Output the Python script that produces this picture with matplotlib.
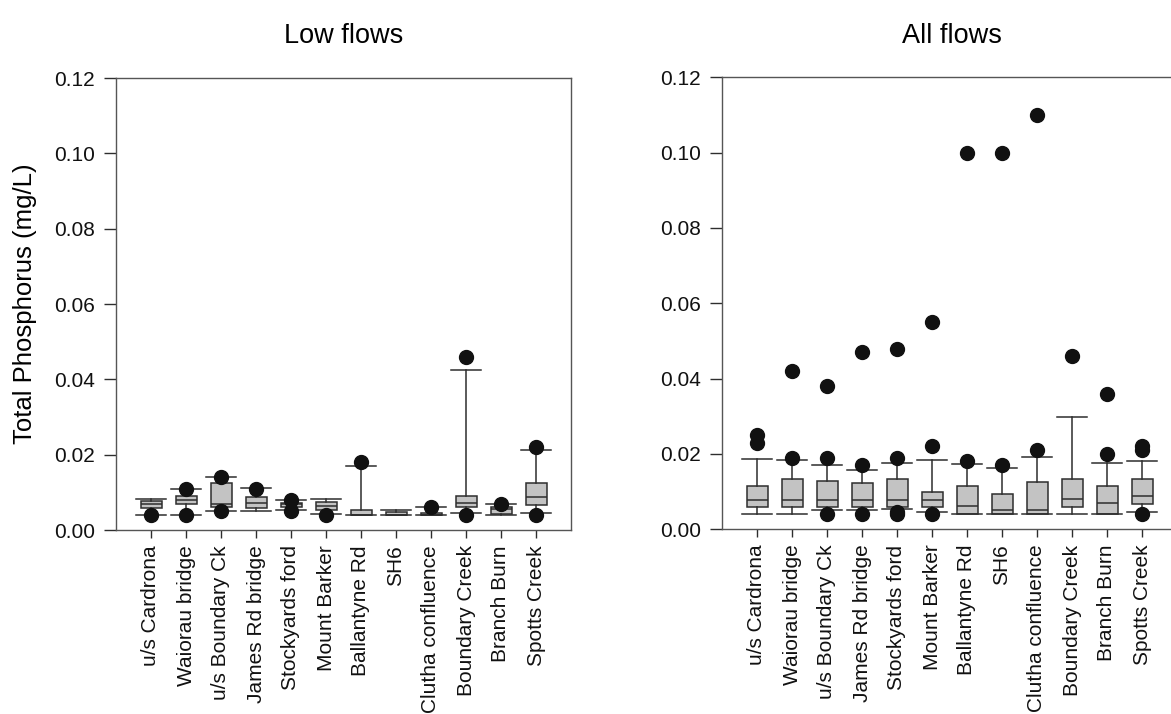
#!/usr/bin/env python3
"""
Total phosphorus box plots by site, low flows vs all flows.
"""

import matplotlib
matplotlib.use('Agg')
import matplotlib.pyplot as plt

plt.rcParams['font.family'] = ['Liberation Sans', 'DejaVu Sans']

sites = ['u/s Cardrona', 'Waiorau bridge', 'u/s Boundary Ck', 'James Rd bridge',
         'Stockyards ford', 'Mount Barker', 'Ballantyne Rd', 'SH6',
         'Clutha confluence', 'Boundary Creek', 'Branch Burn', 'Spotts Creek']

# Low flows
low_whislo = [0.004, 0.004, 0.005, 0.005, 0.0052, 0.0043, 0.004, 0.004, 0.004, 0.0044, 0.004, 0.0044]
low_q1 = [0.0058, 0.007, 0.0062, 0.0058, 0.006, 0.0052, 0.004, 0.004, 0.004, 0.0061, 0.0043, 0.0066]
low_med = [0.0068, 0.0079, 0.0069, 0.0071, 0.0068, 0.0065, 0.004, 0.004, 0.004, 0.0071, 0.0056, 0.0088]
low_q3 = [0.0078, 0.0091, 0.0124, 0.0088, 0.0072, 0.0074, 0.0054, 0.0047, 0.0045, 0.009, 0.0062, 0.0124]
low_whishi = [0.0082, 0.011, 0.0141, 0.0112, 0.008, 0.0082, 0.017, 0.0052, 0.006, 0.0424, 0.007, 0.0213]
low_fliers = [[0.004], [0.011, 0.004], [0.014, 0.005], [0.011], [0.008, 0.005], [0.004],
              [0.018], [], [0.006], [0.046, 0.004], [0.007], [0.022, 0.004]]

# All flows
all_whislo = [0.004, 0.004, 0.005, 0.005, 0.0055, 0.0046, 0.004, 0.004, 0.004, 0.004, 0.004, 0.0046]
all_q1 = [0.006, 0.006, 0.006, 0.006, 0.006, 0.006, 0.004, 0.004, 0.004, 0.0059, 0.004, 0.0068]
all_med = [0.0079, 0.0079, 0.0079, 0.0079, 0.0079, 0.0079, 0.0061, 0.005, 0.005, 0.008, 0.0069, 0.0089]
all_q3 = [0.0114, 0.0134, 0.0129, 0.0124, 0.0134, 0.0099, 0.0114, 0.0094, 0.0125, 0.0134, 0.0114, 0.0134]
all_whishi = [0.0187, 0.0184, 0.0171, 0.0157, 0.0177, 0.0184, 0.0173, 0.0164, 0.0193, 0.0298, 0.0175, 0.018]
all_fliers = [[0.025, 0.023], [0.042, 0.019], [0.038, 0.019, 0.004], [0.047, 0.017, 0.004],
              [0.048, 0.019, 0.004, 0.0045], [0.055, 0.022, 0.004], [0.1, 0.018], [0.1, 0.017],
              [0.11, 0.021], [0.046], [0.036, 0.02], [0.022, 0.021, 0.004]]

line_col = '#2e2e2e'


def make_stats(whislo, q1, med, q3, whishi, fliers):
    stats = []
    for i in range(len(sites)):
        stats.append(dict(whislo=whislo[i], q1=q1[i], med=med[i], q3=q3[i],
                          whishi=whishi[i], fliers=fliers[i]))
    return stats


def draw_panel(ax, stats, title):
    ax.bxp(stats, positions=range(1, len(sites) + 1), widths=0.6, capwidths=0.88,
           patch_artist=True,
           boxprops=dict(facecolor='#c3c3c3', edgecolor=line_col, linewidth=1.1),
           medianprops=dict(color=line_col, linewidth=1.1),
           whiskerprops=dict(color=line_col, linewidth=1.1),
           capprops=dict(color=line_col, linewidth=1.1),
           flierprops=dict(marker='o', markerfacecolor='#111111', markeredgecolor='#111111',
                           markersize=10, zorder=5))
    ax.set_xlim(0, 13)
    ax.set_ylim(0, 0.12)
    ax.set_yticks([0.0, 0.02, 0.04, 0.06, 0.08, 0.10, 0.12])
    ax.set_yticklabels(['0.00', '0.02', '0.04', '0.06', '0.08', '0.10', '0.12'])
    ax.set_xticks(range(1, len(sites) + 1))
    ax.set_xticklabels(sites, rotation=90, va='top', ha='center')
    ax.tick_params(axis='both', labelsize=15, colors=line_col, labelcolor='#111111',
                   direction='out', width=1.0)
    ax.tick_params(axis='y', length=9, pad=6)
    ax.tick_params(axis='x', length=6, pad=5)
    for s in ax.spines.values():
        s.set_color('#555555')
        s.set_linewidth(1.0)
    ax.set_title(title, fontsize=19.5, pad=25)


fig = plt.figure(figsize=(11.71, 7.14), dpi=100)
ax1 = fig.add_axes([116 / 1171, 184 / 714, 455 / 1171, 452 / 714])
ax2 = fig.add_axes([722 / 1171, 184.7 / 714, 460 / 1171, 452 / 714])

draw_panel(ax1, make_stats(low_whislo, low_q1, low_med, low_q3, low_whishi, low_fliers), 'Low flows')
draw_panel(ax2, make_stats(all_whislo, all_q1, all_med, all_q3, all_whishi, all_fliers), 'All flows')
ax2.set_xlim(0, 13 * 460 / 455)

ax1.set_ylabel('Total Phosphorus (mg/L)', fontsize=18.5, labelpad=12)

fig.savefig('out.png', dpi=100)
